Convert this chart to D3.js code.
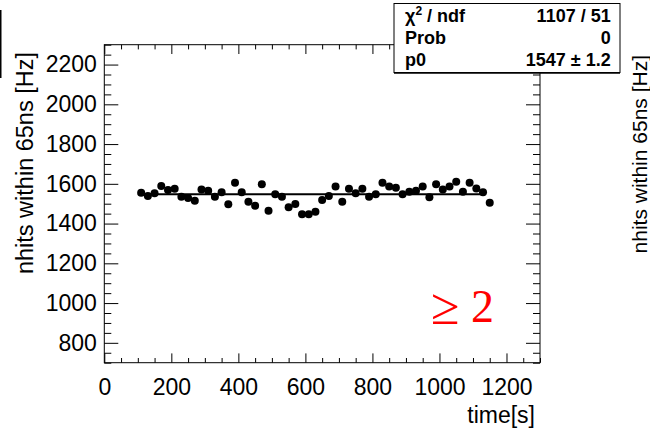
<!DOCTYPE html>
<html>
<head>
<meta charset="utf-8">
<script src="https://cdn.jsdelivr.net/npm/d3@7"></script>
<style>
  body { margin: 0; background: #fff; }
  svg { display: block; font-family: "Liberation Sans", Arial, sans-serif; }
</style>
</head>
<body>
<svg id="chart" width="650" height="429"></svg>
<script>
// rate vs time, one point per 20 s slice
const times = [110, 130, 150, 170, 190, 210, 230, 250, 270, 290,
               310, 330, 350, 370, 390, 410, 430, 450, 470, 490,
               510, 530, 550, 570, 590, 610, 630, 650, 670, 690,
               710, 730, 750, 770, 790, 810, 830, 850, 870, 890,
               910, 930, 950, 970, 990, 1010, 1030, 1050, 1070, 1090,
               1110, 1130, 1150];
const rates = [1555, 1539, 1552, 1589, 1569, 1575, 1535, 1529, 1515, 1572,
               1565, 1535, 1557, 1497, 1606, 1557, 1510, 1490, 1598, 1465,
               1547, 1535, 1482, 1499, 1447, 1447, 1460, 1519, 1539, 1586,
               1510, 1575, 1552, 1575, 1535, 1547, 1606, 1586, 1580, 1547,
               1560, 1565, 1586, 1532, 1598, 1572, 1586, 1611, 1560, 1606,
               1577, 1557, 1505];

const fitP0 = 1547;
const fitRange = [100, 1130];

const xMajor = [0, 200, 400, 600, 800, 1000, 1200];
const yMajor = [800, 1000, 1200, 1400, 1600, 1800, 2000, 2200];

const statsRows = [
    { label: "χ", sup: "2", rest: " / ndf", value: "1107 / 51" },
    { label: "Prob", value: "0" },
    { label: "p0", value: "1547 ± 1.2" }
];

const svg = d3.select("#chart");

const frame = { left: 104.3, right: 540, top: 44.7, bottom: 362.7 };

const x = d3.scaleLinear().domain([0, 1300]).range([frame.left, frame.right]);
const y = d3.scaleLinear().domain([700, 2300]).range([frame.bottom, frame.top]);

const xMinor = d3.range(0, 1300.1, 50).filter(v => !xMajor.includes(v));
const yMinor = d3.range(700, 2300.1, 50).filter(v => !yMajor.includes(v));

// --- frame
svg.append("rect")
    .attr("x", frame.left)
    .attr("y", frame.top)
    .attr("width", frame.right - frame.left)
    .attr("height", frame.bottom - frame.top)
    .attr("fill", "none")
    .attr("stroke", "#000")
    .attr("stroke-width", 1);

function styleAxis(g) {
    g.select(".domain").remove();
    g.selectAll("line").attr("stroke", "#000").attr("stroke-width", 1);
    g.selectAll("text")
        .attr("font-family", "'Liberation Sans', Arial, sans-serif")
        .attr("font-size", 23)
        .attr("fill", "#000");
}

// bottom axis: majors with labels, minors without
svg.append("g")
    .attr("transform", `translate(0,${frame.bottom})`)
    .call(d3.axisBottom(x).tickValues(xMajor).tickSize(-9.3).tickPadding(16).tickFormat(d3.format("d")))
    .call(styleAxis);
svg.append("g")
    .attr("transform", `translate(0,${frame.bottom})`)
    .call(d3.axisBottom(x).tickValues(xMinor).tickSize(-4.7).tickFormat(""))
    .call(styleAxis);

// top axis ticks only
svg.append("g")
    .attr("transform", `translate(0,${frame.top})`)
    .call(d3.axisTop(x).tickValues(xMajor).tickSize(-9.3).tickFormat(""))
    .call(styleAxis);
svg.append("g")
    .attr("transform", `translate(0,${frame.top})`)
    .call(d3.axisTop(x).tickValues(xMinor).tickSize(-4.7).tickFormat(""))
    .call(styleAxis);

// left axis
svg.append("g")
    .attr("transform", `translate(${frame.left},0)`)
    .call(d3.axisLeft(y).tickValues(yMajor).tickSize(-14).tickPadding(7.5).tickFormat(d3.format("d")))
    .call(styleAxis);
svg.append("g")
    .attr("transform", `translate(${frame.left},0)`)
    .call(d3.axisLeft(y).tickValues(yMinor).tickSize(-7).tickFormat(""))
    .call(styleAxis);

// right axis ticks only
svg.append("g")
    .attr("transform", `translate(${frame.right},0)`)
    .call(d3.axisRight(y).tickValues(yMajor).tickSize(-14).tickFormat(""))
    .call(styleAxis);
svg.append("g")
    .attr("transform", `translate(${frame.right},0)`)
    .call(d3.axisRight(y).tickValues(yMinor).tickSize(-7).tickFormat(""))
    .call(styleAxis);

// --- axis titles
svg.append("text")
    .attr("x", 535)
    .attr("y", 423)
    .attr("text-anchor", "end")
    .attr("font-size", 23)
    .text("time[s]");

svg.append("text")
    .attr("transform", `translate(33,52) rotate(-90)`)
    .attr("text-anchor", "end")
    .attr("font-size", 23.5)
    .text("nhits within 65ns [Hz]");

// neighbouring pad's y title, cut at the right edge
svg.append("text")
    .attr("transform", `translate(647,55) rotate(-90)`)
    .attr("text-anchor", "end")
    .attr("font-size", 21)
    .text("nhits within 65ns [Hz]");

// neighbouring pad's stats box edge on the left
svg.append("line")
    .attr("x1", 0.5).attr("x2", 0.5)
    .attr("y1", 10).attr("y2", 78)
    .attr("stroke", "#000")
    .attr("stroke-width", 2);

// --- fit line
svg.append("line")
    .attr("x1", x(fitRange[0]))
    .attr("x2", x(fitRange[1]))
    .attr("y1", y(fitP0))
    .attr("y2", y(fitP0))
    .attr("stroke", "#000")
    .attr("stroke-width", 2);

// --- data points
svg.append("g")
    .selectAll("circle")
    .data(times.map((t, i) => ({ t, v: rates[i] })))
    .join("circle")
    .attr("cx", d => x(d.t))
    .attr("cy", d => y(d.v))
    .attr("r", 4)
    .attr("fill", "#000");

// --- label
const lab = svg.append("text")
    .attr("x", 431)
    .attr("y", 322)
    .attr("font-family", "'Liberation Serif', 'Times New Roman', serif")
    .attr("fill", "#ff0000");
lab.append("tspan").attr("font-size", 52).attr("dy", 2).text("≥");
lab.append("tspan").attr("font-size", 46).attr("dy", -2).text(" 2");

// --- stats box
const box = { x: 394, y: 3.5, w: 226, h: 69 };
svg.append("rect")
    .attr("x", box.x)
    .attr("y", box.y)
    .attr("width", box.w)
    .attr("height", box.h)
    .attr("fill", "#fff")
    .attr("stroke", "#000")
    .attr("stroke-width", 1);
svg.append("line")
    .attr("x1", box.x).attr("x2", box.x + box.w)
    .attr("y1", box.y + box.h + 0.5).attr("y2", box.y + box.h + 0.5)
    .attr("stroke", "#000")
    .attr("stroke-width", 1.5);

const rowBase = [21.7, 44.3, 66.3];
statsRows.forEach((row, i) => {
    const t = svg.append("text")
        .attr("x", 405)
        .attr("y", rowBase[i])
        .attr("font-size", 18)
        .attr("font-weight", "bold");
    t.append("tspan").text(row.label);
    if (row.sup) {
        t.append("tspan").attr("font-size", 12).attr("dy", -7).text(row.sup);
        t.append("tspan").attr("dy", 7).text(row.rest);
    }
    svg.append("text")
        .attr("x", 610.7)
        .attr("y", rowBase[i])
        .attr("text-anchor", "end")
        .attr("font-size", 18)
        .attr("font-weight", "bold")
        .text(row.value);
});
</script>
</body>
</html>
